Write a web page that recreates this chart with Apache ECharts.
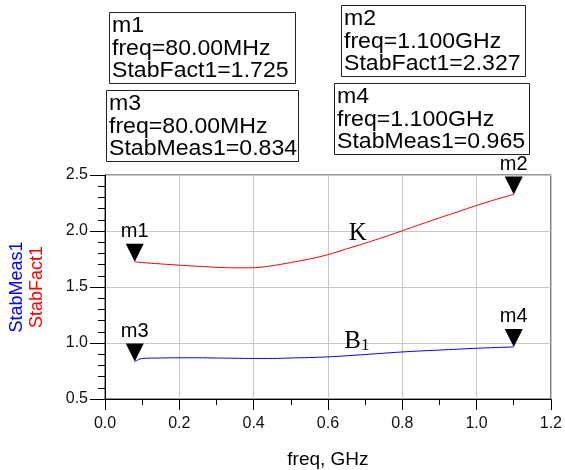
<!DOCTYPE html>
<html>
<head>
<meta charset="utf-8">
<script src="https://cdn.jsdelivr.net/npm/echarts@6/dist/echarts.min.js"></script>
<style>
html,body{margin:0;padding:0;background:#fff;}
#c{width:565px;height:470px;}
</style>
</head>
<body>
<div id="c"></div>
<script>
// ---- data ----
const freq = [0.08, 0.1, 0.15, 0.2, 0.25, 0.3, 0.35, 0.4, 0.45, 0.5, 0.55, 0.6, 0.65, 0.7, 0.75, 0.8, 0.85, 0.9, 0.95, 1.0, 1.05, 1.1];
const stabFact1 = [1.725, 1.718, 1.706, 1.695, 1.685, 1.676, 1.671, 1.672, 1.690, 1.718, 1.750, 1.789, 1.840, 1.891, 1.945, 2.002, 2.060, 2.117, 2.172, 2.228, 2.280, 2.327];
const stabMeas1 = [0.834, 0.862, 0.866, 0.868, 0.868, 0.866, 0.864, 0.862, 0.862, 0.866, 0.870, 0.876, 0.886, 0.897, 0.909, 0.920, 0.929, 0.937, 0.945, 0.953, 0.959, 0.965];
const xTicks = [0.0, 0.2, 0.4, 0.6, 0.8, 1.0, 1.2];
const yTicks = [0.5, 1.0, 1.5, 2.0, 2.5];
const markerNames = ['m1', 'm2', 'm3', 'm4'];
const markerSeries = ['StabFact1', 'StabFact1', 'StabMeas1', 'StabMeas1'];
const markerIndex = [0, 21, 0, 21];
const curveLabelText = ['K', 'B1'];
const curveLabelFreq = [0.68, 0.678];
const curveLabelValue = [1.98, 1.013];

// ---- helpers ----
const FONT = '"Liberation Sans", Arial, sans-serif';
const SERIF = '"Liberation Serif", "Times New Roman", serif';
const seriesData = { StabFact1: stabFact1, StabMeas1: stabMeas1 };
function fmtFreq(f) {
  return f < 1 ? (f * 1000).toFixed(2) + 'MHz' : f.toFixed(3) + 'GHz';
}
function pairs(ys) { return freq.map((f, i) => [f, ys[i]]); }
function markPts(name) {
  const out = [];
  markerNames.forEach((m, k) => {
    if (markerSeries[k] !== name) return;
    const i = markerIndex[k];
    out.push({ name: m, coord: [freq[i], seriesData[name][i]], label: { formatter: m } });
  });
  return out;
}
const boxLayout = [
  { x: 109, y: 12, w: 186, h: 71 },
  { x: 341, y: 5, w: 184, h: 71 },
  { x: 106, y: 90, w: 192, h: 71 },
  { x: 334, y: 83, w: 195, h: 71 }
];
const graphics = markerNames.map((m, k) => {
  const b = boxLayout[k];
  const i = markerIndex[k];
  const val = seriesData[markerSeries[k]][i];
  const txt = m + '\nfreq=' + fmtFreq(freq[i]) + '\n' + markerSeries[k] + '=' + val.toFixed(3);
  return {
    type: 'group',
    children: [
      { type: 'rect', shape: { x: b.x + 0.5, y: b.y + 0.5, width: b.w, height: b.h },
        style: { fill: '#fff', stroke: '#222', lineWidth: 1 } },
      { type: 'text', x: b.x + 3, y: b.y + 3, scaleX: 1.05,
        style: { text: txt, fontSize: 22, fontFamily: FONT, lineHeight: 22.5, fill: '#000' } }
    ]
  };
});
const hidden = { color: 'rgba(0,0,0,0)' };

const chart = echarts.init(document.getElementById('c'), null, { renderer: 'canvas' });
chart.setOption({
  backgroundColor: '#fff',
  animation: false,
  grid: { left: 103, right: 13, top: 175, bottom: 69, show: true, borderColor: '#333', borderWidth: 1 },
  xAxis: {
    type: 'value', min: xTicks[0], max: xTicks[xTicks.length - 1], interval: 0.2,
    name: 'freq, GHz', nameLocation: 'middle', nameGap: 51,
    nameTextStyle: { fontSize: 19, fontFamily: FONT, color: '#000' },
    axisLine: { show: true, lineStyle: { color: '#000' } },
    axisTick: { show: true, length: 11, lineStyle: { color: '#000' } },
    minorTick: { show: true, splitNumber: 2, length: 6, lineStyle: { color: '#000' } },
    splitLine: { show: true, lineStyle: { color: '#c8c8c8', width: 1 } },
    axisLabel: { fontSize: 16, fontFamily: FONT, color: '#111', margin: 17,
      formatter: v => v.toFixed(1) }
  },
  yAxis: {
    type: 'value', min: yTicks[0], max: yTicks[yTicks.length - 1], interval: 0.5,
    name: '{a|StabMeas1}\n{b|StabFact1}', nameLocation: 'middle', nameGap: 58,
    nameTextStyle: { fontFamily: FONT, rich: {
      a: { color: '#0000ff', fontSize: 18, lineHeight: 20, fontFamily: FONT },
      b: { color: '#ff0000', fontSize: 18, lineHeight: 20, fontFamily: FONT } } },
    axisLine: { show: true, lineStyle: { color: '#000' } },
    axisTick: { show: true, length: 15, lineStyle: { color: '#000' } },
    minorTick: { show: true, splitNumber: 5, length: 7, lineStyle: { color: '#000' } },
    splitLine: { show: true, lineStyle: { color: '#c8c8c8', width: 1 } },
    axisLabel: { fontSize: 16, fontFamily: FONT, color: '#111', margin: 17,
      formatter: v => v.toFixed(1) }
  },
  graphic: graphics,
  series: [
    {
      name: 'StabFact1', type: 'line', data: pairs(stabFact1), showSymbol: false, smooth: 0.3,
      lineStyle: { color: '#ff0000', width: 1 }, itemStyle: { color: '#ff0000' },
      markPoint: {
        symbol: 'triangle', symbolRotate: 180, symbolSize: [18, 18], symbolOffset: [0, '-50%'],
        itemStyle: { color: '#000' },
        label: { show: true, position: 'top', distance: 2, color: '#000', fontSize: 20, fontFamily: FONT },
        data: markPts('StabFact1').concat([{
          name: 'K', coord: [curveLabelFreq[0], curveLabelValue[0]], symbol: 'circle', symbolSize: 2, symbolRotate: 0, symbolOffset: [0, 0],
          itemStyle: hidden,
          label: { show: true, position: 'inside', formatter: curveLabelText[0], fontSize: 25, fontFamily: SERIF, color: '#000' }
        }])
      }
    },
    {
      name: 'StabMeas1', type: 'line', data: pairs(stabMeas1), showSymbol: false, smooth: 0.3,
      lineStyle: { color: '#0000ff', width: 1 }, itemStyle: { color: '#0000ff' },
      markPoint: {
        symbol: 'triangle', symbolRotate: 180, symbolSize: [18, 18], symbolOffset: [0, '-50%'],
        itemStyle: { color: '#000' },
        label: { show: true, position: 'top', distance: 2, color: '#000', fontSize: 20, fontFamily: FONT },
        data: markPts('StabMeas1').concat([{
          name: 'B1', coord: [curveLabelFreq[1], curveLabelValue[1]], symbol: 'circle', symbolSize: 2, symbolRotate: 0, symbolOffset: [0, 0],
          itemStyle: hidden,
          label: { show: true, position: 'inside', formatter: '{b|' + curveLabelText[1].charAt(0) + '}{s|' + curveLabelText[1].slice(1) + '}',
            rich: {
              b: { fontSize: 25, lineHeight: 25, verticalAlign: 'bottom', fontFamily: SERIF, color: '#000' },
              s: { fontSize: 17, lineHeight: 17, verticalAlign: 'bottom', fontFamily: SERIF, color: '#000' }
            } }
        }])
      }
    }
  ]
});
</script>
</body>
</html>
